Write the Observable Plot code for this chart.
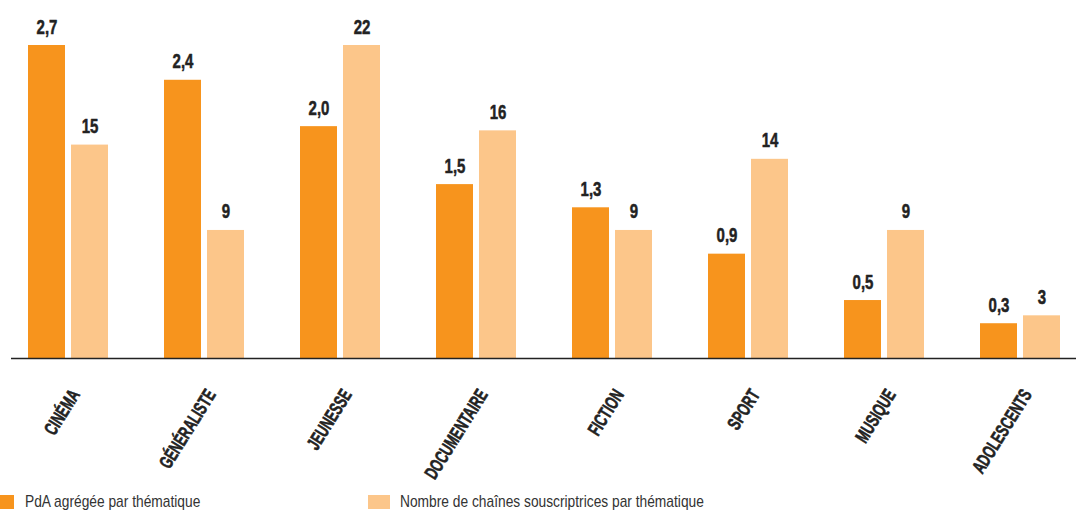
<!DOCTYPE html>
<html>
<head>
<meta charset="utf-8">
<script src="https://cdn.jsdelivr.net/npm/d3@7"></script>
<script src="https://cdn.jsdelivr.net/npm/@observablehq/plot@0.6"></script>
<style>
  html, body { margin: 0; padding: 0; background: #fff; }
  #chart svg { display: block; }
  .legend { position: relative; height: 28px; font-family: "Liberation Sans", Arial, sans-serif; font-size: 17px; color: #333; }
  .legend .sw { position: absolute; top: 7px; width: 22px; height: 14px; }
  .legend .lb { position: absolute; top: 4px; white-space: nowrap; transform-origin: 0 50%; }
</style>
</head>
<body>
<div id="chart"></div>
<div class="legend">
  <div class="sw" style="left:-8px;background:#F7941D"></div>
  <div class="lb" id="lg1" style="left:25px">PdA agrégée par thématique</div>
  <div class="sw" style="left:368px;background:#FCC68A"></div>
  <div class="lb" id="lg2" style="left:400px">Nombre de chaînes souscriptrices par thématique</div>
</div>
<script>
const themes = ["CINÉMA", "GÉNÉRALISTE", "JEUNESSE", "DOCUMENTAIRE", "FICTION", "SPORT", "MUSIQUE", "ADOLESCENTS"];
const pdaValues = [2.7, 2.4, 2.0, 1.5, 1.3, 0.9, 0.5, 0.3];
const chainesValues = [15, 9, 22, 16, 9, 14, 9, 3];

const orange = "#F7941D";
const light = "#FCC68A";
const ink = "#222";

const pdaMax = d3.max(pdaValues);
const chMax = d3.max(chainesValues);
const fmtPda = v => d3.format(".1f")(v).replace(".", ",");

const pda = themes.map((t, i) => ({theme: t, value: pdaValues[i], y: pdaValues[i] / pdaMax, label: fmtPda(pdaValues[i])}));
const ch = themes.map((t, i) => ({theme: t, value: chainesValues[i], y: chainesValues[i] / chMax, label: String(chainesValues[i])}));

const font = '"Liberation Sans", Arial, sans-serif';

const chart = Plot.plot({
  width: 1076,
  height: 488,
  marginTop: 45,
  marginBottom: 130,
  marginLeft: 25,
  marginRight: 12,
  style: {fontFamily: font, background: "#fff"},
  x: {type: "band", domain: themes, paddingInner: 0.409, paddingOuter: 0, axis: null},
  y: {domain: [0, 1], axis: null},
  marks: [
    Plot.barY(pda, {x: "theme", y: "y", fill: orange, insetRight: 43}),
    Plot.barY(ch, {x: "theme", y: "y", fill: light, insetLeft: 43}),
    Plot.ruleY([0], {stroke: ink, strokeWidth: 1.6, insetLeft: -14, insetRight: -12}),
    Plot.text(pda, {x: "theme", y: "y", text: "label", dx: -21.5, dy: -12, lineAnchor: "bottom", fontSize: 20, fontWeight: "bold", fill: ink, stroke: ink, strokeWidth: 0.5, className: "cond-val"}),
    Plot.text(ch, {x: "theme", y: "y", text: "label", dx: 21.5, dy: -12, lineAnchor: "bottom", fontSize: 20, fontWeight: "bold", fill: ink, stroke: ink, strokeWidth: 0.5, className: "cond-val"}),
    Plot.text(themes, {x: d => d, frameAnchor: "bottom", text: d => d, rotate: -58, textAnchor: "end", lineAnchor: "bottom", dx: 12, dy: 36, fontSize: 19, fontWeight: "bold", fill: ink, stroke: ink, strokeWidth: 0.6, className: "cond-axis"})
  ]
});
document.getElementById("chart").appendChild(chart);

// Condense glyphs horizontally to mimic the condensed typeface
function condense(selector, k) {
  chart.querySelectorAll(selector + " text").forEach(t => {
    const w = t.getComputedTextLength();
    t.setAttribute("textLength", (w * k).toFixed(2));
    t.setAttribute("lengthAdjust", "spacingAndGlyphs");
  });
}
condense(".cond-val", 0.75);
condense(".cond-axis", 0.66);

document.querySelectorAll(".legend .lb").forEach(el => { el.style.transform = "scaleX(0.81)"; });
</script>
</body>
</html>
